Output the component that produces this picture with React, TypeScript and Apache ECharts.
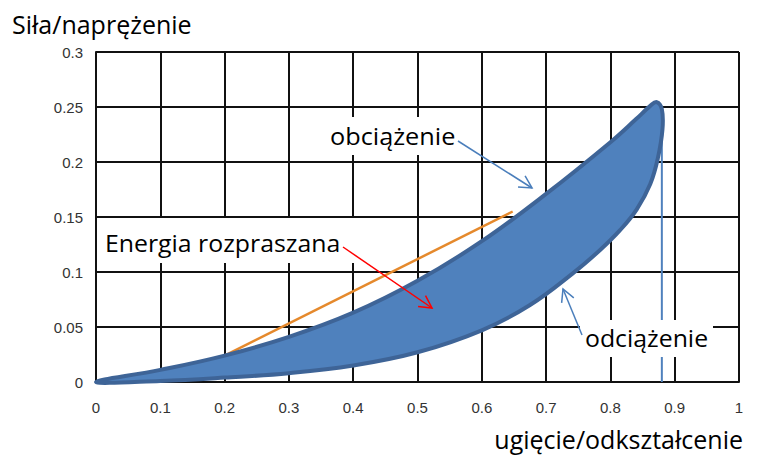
import React, { useEffect, useRef } from "react";
import * as echarts from "echarts";

// ---- data ----
const xTicks = [0, 0.1, 0.2, 0.3, 0.4, 0.5, 0.6, 0.7, 0.8, 0.9, 1];
const yTicks = [0, 0.05, 0.1, 0.15, 0.2, 0.25, 0.3];

// loading curve (upper edge), from origin to the peak
const loadX = [0, 0.1, 0.2, 0.3, 0.4, 0.5, 0.6, 0.7, 0.8, 0.84, 0.862];
const loadY = [0, 0.011, 0.024, 0.041, 0.063, 0.092, 0.128, 0.171, 0.218, 0.239, 0.251];

// rounded tip + unloading curve (lower edge), from the peak back to origin
const unloadX = [0.872, 0.88, 0.881, 0.874, 0.862, 0.841, 0.815, 0.784, 0.742, 0.675, 0.6, 0.5, 0.4, 0.3, 0.2, 0.1];
const unloadY = [0.2545, 0.248, 0.23, 0.204, 0.18, 0.157, 0.138, 0.12, 0.099, 0.07, 0.047, 0.027, 0.015, 0.008, 0.004, 0.001];

// dissipated-energy chord (orange)
const chordX = [0.2, 0.648];
const chordY = [0.024, 0.155];

// vertical line at max deflection
const dropX = [0.88, 0.88];
const dropY = [0.23, 0];

const yTitle = "Siła/naprężenie";
const xTitle = "ugięcie/odkształcenie";
const labelLoad = "obciążenie";
const labelUnload = "odciążenie";
const labelEnergy = "Energia rozpraszana";

function arrow(x1: number, y1: number, x2: number, y2: number, color: string, w: number) {
  const ang = Math.atan2(y2 - y1, x2 - x1);
  const L = 14;
  const a = (28 * Math.PI) / 180;
  const p1 = [x2 - L * Math.cos(ang - a), y2 - L * Math.sin(ang - a)];
  const p2 = [x2 - L * Math.cos(ang + a), y2 - L * Math.sin(ang + a)];
  return [
    { type: "line", z: 100, shape: { x1, y1, x2, y2 }, style: { stroke: color, lineWidth: w } },
    {
      type: "polyline",
      z: 100,
      shape: { points: [p1, [x2, y2], p2] },
      style: { stroke: color, lineWidth: w, fill: null },
    },
  ];
}

export default function App() {
  const ref = useRef<HTMLDivElement>(null);
  useEffect(() => {
    if (!ref.current) return;
    const chart = echarts.init(ref.current, null, { renderer: "svg" });
    const loopX = [...loadX, ...unloadX];
    const loopY = [...loadY, ...unloadY];
    const labelFont = "'Open Sans', 'Noto Sans', sans-serif";
    const tickFont = "'Liberation Sans', Arial, sans-serif";
    const fmt = (ticks: number[]) => (v: number) => {
      const t = ticks.find((k) => Math.abs(k - v) < 1e-9);
      return t === undefined ? "" : String(t);
    };
    const label = (text: string, x: number, y: number, size: number, sx: number, align = "left") => ({
      type: "text",
      z: 100,
      x,
      y,
      scaleX: sx,
      style: { text, x: 0, y: 0, font: `${size}px ${labelFont}`, fill: "#000", align, verticalAlign: "middle" },
    });
    const option: any = {
      animation: false,
      backgroundColor: "#ffffff",
      grid: { left: 96, right: 22, top: 52, bottom: 83, containLabel: false },
      xAxis: {
        type: "value",
        min: 0,
        max: 1,
        interval: 0.1,
        axisLine: { show: true, lineStyle: { color: "#111", width: 2 } },
        axisTick: { show: false },
        splitLine: { show: true, lineStyle: { color: "#111", width: 2 } },
        axisLabel: { margin: 18, color: "#333", fontSize: 15, fontFamily: tickFont, formatter: fmt(xTicks) },
      },
      yAxis: {
        type: "value",
        min: 0,
        max: 0.3,
        interval: 0.05,
        axisLine: { show: true, lineStyle: { color: "#111", width: 2 } },
        axisTick: { show: false },
        splitLine: { show: true, lineStyle: { color: "#111", width: 2 } },
        axisLabel: { margin: 13, color: "#333", fontSize: 15, fontFamily: tickFont, formatter: fmt(yTicks) },
      },
      series: [
        {
          type: "line",
          data: chordX.map((x, i) => [x, chordY[i]]),
          symbol: "none",
          lineStyle: { color: "#E5892C", width: 2.5 },
          z: 3,
        },
        {
          type: "line",
          data: dropX.map((x, i) => [x, dropY[i]]),
          symbol: "none",
          lineStyle: { color: "#4F81BD", width: 2 },
          z: 3,
        },
        {
          type: "custom",
          z: 4,
          data: [[0, 0]],
          renderItem: (params: any, api: any) => {
            const pts = loopX.map((x, i) => api.coord([x, loopY[i]]));
            return {
              type: "polygon",
              shape: { points: pts, smooth: 0.4 },
              style: { fill: "#4F81BD", stroke: "#3E6497", lineWidth: 4, lineJoin: "round" },
            };
          },
        },
      ],
      graphic: [
        { type: "rect", z: 90, shape: { x: 320, y: 117, width: 145, height: 38 }, style: { fill: "#fff" } },
        { type: "rect", z: 90, shape: { x: 98, y: 218, width: 308, height: 45 }, style: { fill: "#fff" } },
        { type: "rect", z: 90, shape: { x: 580, y: 320, width: 133, height: 37 }, style: { fill: "#fff" } },
        label(labelLoad, 330, 136, 23, 1.1),
        label(labelEnergy, 105, 243, 23, 1.08),
        label(labelUnload, 585, 338, 23, 1.08),
        label(yTitle, 12, 24, 25, 1.0),
        label(xTitle, 743, 439, 25, 1.0, "right"),
        ...arrow(458, 141, 532, 188, "#4A7EBB", 1.5),
        ...arrow(343, 247, 432, 308, "#FF0000", 1.5),
        ...arrow(582, 335, 563, 289, "#4A7EBB", 1.5),
      ],
    };
    chart.setOption(option);
    return () => chart.dispose();
  }, []);
  return <div ref={ref} style={{ position: "absolute", left: 0, top: 0, width: 761, height: 465 }} />;
}
